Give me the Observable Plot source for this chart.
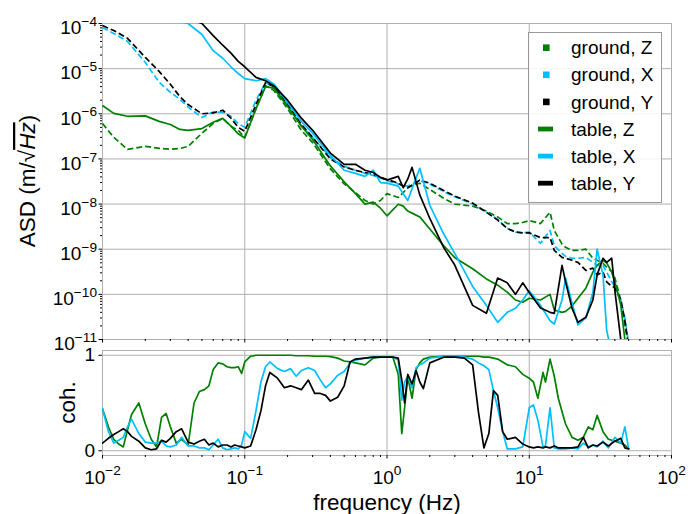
<!DOCTYPE html>
<html>
<head>
<meta charset="utf-8">
<script src="https://cdn.jsdelivr.net/npm/d3@7"></script>
<script src="https://cdn.jsdelivr.net/npm/@observablehq/plot@0.6"></script>
<style>
  body { margin: 0; background: #fff; }
  #chart { position: relative; width: 699px; height: 514px; overflow: hidden; background: #fff; }
  #chart svg { position: absolute; left: 0; overflow: visible; }
</style>
</head>
<body>
<div id="chart"></div>
<script>
// ---------- DATA ----------
const freq = [0.01,0.012,0.015,0.02,0.025,0.03,0.035,0.04,0.05,0.06,
  0.07,0.08,0.09,0.1,0.12,0.14,0.16,0.2,0.25,0.3,
  0.4,0.5,0.6,0.7,0.8,0.9,1,1.2,1.3,1.4,
  1.5,1.7,2,2.5,3,4,5,6,7,8,
  9,10,12,14,15,17,18,20,22,25,
  28,30,33,35,38,40,44,47,50];

const groundZ = [6.1e-7,3.0e-7,1.63e-7,1.9e-7,1.72e-7,1.63e-7,1.7e-7,1.9e-7,3.7e-7,6.1e-7,
  7.9e-7,5.3e-7,4.3e-7,3.0e-7,1.3e-6,4.2e-6,3.3e-6,1.3e-6,4.3e-7,2.3e-7,
  6.0e-8,2.8e-8,1.8e-8,1.2e-8,1.0e-8,1.2e-8,1.7e-8,1.4e-8,1.8e-8,2.3e-8,
  2.6e-8,2.9e-8,2.1e-8,1.35e-8,1.0e-8,9e-9,7.0e-9,5.2e-9,3.7e-9,3.7e-9,
  3.9e-9,4.3e-9,3.7e-9,6.6e-9,2.6e-9,1.3e-9,1.1e-9,9.4e-10,9.4e-10,1.0e-9,
  6.3e-10,5.7e-10,4.9e-10,4.0e-10,3.2e-10,2.3e-10,7.5e-11,2.1e-11,7e-12];

const groundX = [8.2e-5,6.0e-5,4.0e-5,1.37e-5,5e-6,3.0e-6,2.1e-6,1.4e-6,8.3e-7,1.1e-6,
  1.07e-6,8.8e-7,6.1e-7,5.0e-7,2.0e-6,4.9e-6,4.0e-6,1.6e-6,5.5e-7,3.0e-7,
  1.08e-7,6.9e-8,5.6e-8,4.8e-8,4.3e-8,3.8e-8,3.3e-8,2.8e-8,2.6e-8,2.5e-8,
  2.8e-8,3.3e-8,2.8e-8,1.9e-8,1.45e-8,1.0e-8,6.6e-9,4.6e-9,2.9e-9,2.4e-9,
  2.3e-9,2.4e-9,1.35e-9,2.6e-9,1.2e-9,8e-10,7e-10,6.3e-10,6.3e-10,6.6e-10,
  5.1e-10,4.4e-10,4.4e-10,3.1e-10,1.9e-10,1.5e-10,7.5e-11,3e-11,8e-12];

const groundY = [9e-5,7e-5,4.7e-5,1.77e-5,8.7e-6,4.5e-6,2.4e-6,1.6e-6,1.0e-6,1.05e-6,
  1.2e-6,8e-7,5e-7,4.1e-7,1.6e-6,4.9e-6,4.0e-6,1.6e-6,5.8e-7,3.0e-7,
  1.0e-7,6.6e-8,5.6e-8,5.0e-8,4.6e-8,3.9e-8,3.5e-8,2.9e-8,2.5e-8,2.3e-8,
  2.6e-8,3.4e-8,2.9e-8,2.0e-8,1.5e-8,1.05e-8,6.6e-9,4.4e-9,2.9e-9,2.4e-9,
  2.3e-9,2.3e-9,1.8e-9,1.8e-9,9.4e-10,6.6e-10,6.3e-10,5.7e-10,5.1e-10,3.4e-10,
  3.8e-10,2.7e-10,3.1e-10,1.9e-10,1.5e-10,1.4e-10,7.5e-11,2.7e-11,7e-12];

const tableZ = [1.53e-6,1.02e-6,8.8e-7,9e-7,6.8e-7,5.8e-7,4.5e-7,4.3e-7,4.7e-7,6.5e-7,
  7.9e-7,5.3e-7,3.6e-7,2.9e-7,1.3e-6,4.0e-6,3.7e-6,1.46e-6,5.3e-7,2.7e-7,
  7e-8,3.1e-8,1.7e-8,1.0e-8,1.1e-8,8.1e-9,5.5e-9,9.9e-9,9e-9,7e-9,
  6.3e-9,5.2e-9,2.8e-9,1.2e-9,6.5e-10,3.7e-10,2.2e-10,1.6e-10,1.12e-10,7.5e-11,
  6.7e-11,8.2e-11,7.5e-11,1.0e-10,4.5e-11,4.0e-11,4.2e-11,5.5e-11,8.2e-11,1.37e-10,
  3.1e-10,4.4e-10,5.7e-10,5.0e-10,3.1e-10,1.9e-10,5.8e-11,1.0e-11,5e-12];

const tableX = [4e-4,3.5e-4,3e-4,2.5e-4,2e-4,1.6e-4,1.1e-4,1.0e-4,5.7e-5,2.5e-5,
  1.7e-5,1.1e-5,7.8e-6,6.0e-6,5.4e-6,6.0e-6,4.6e-6,1.8e-6,6.8e-7,3.7e-7,
  1.2e-7,5.6e-8,4.8e-8,4.1e-8,5.6e-8,3.0e-8,2.9e-8,2.5e-8,1.7e-8,1.2e-8,
  2.2e-8,6.2e-8,9.4e-9,2.2e-9,8e-10,1.5e-10,5.7e-11,2.4e-11,4.0e-11,4.9e-11,
  7.5e-11,1.2e-10,5.7e-11,2.6e-11,2.2e-11,7.5e-11,2.3e-10,6.4e-11,2.1e-11,3.0e-11,
  1.1e-10,1.0e-9,2.7e-10,1.6e-11,5e-12,5e-12,5e-12,5e-12,5e-12];

const tableY = [6e-4,5e-4,4e-4,3e-4,2.5e-4,2e-4,1.6e-4,1.3e-4,1.0e-4,5.4e-5,
  3.3e-5,2.2e-5,1.45e-5,1.1e-5,6.4e-6,5.4e-6,4.2e-6,2.0e-6,8e-7,4.3e-7,
  1.35e-7,7.6e-8,7.6e-8,5.6e-8,5.0e-8,3.9e-8,3.4e-8,4.1e-8,2.3e-8,3.6e-8,
  6.5e-8,1.6e-8,4.8e-9,1.1e-9,4.4e-10,5.7e-11,3.8e-11,2.3e-10,1.8e-10,1.0e-10,
  1.8e-10,1.1e-10,5e-11,4e-11,3.8e-11,4.4e-10,1.9e-10,4.9e-11,2.4e-11,3.1e-11,
  7.5e-11,2.7e-10,6.3e-10,5.1e-10,6.3e-10,1.2e-10,1e-11,5e-12,5e-12];

const cohFreq = [0.01,0.011,0.012,0.013,0.014,0.015,0.016,0.018,0.02,0.022,
  0.024,0.026,0.028,0.03,0.033,0.036,0.04,0.044,0.048,0.052,
  0.056,0.06,0.065,0.07,0.075,0.08,0.085,0.09,0.095,0.1,
  0.11,0.12,0.13,0.14,0.15,0.17,0.19,0.21,0.23,0.25,
  0.28,0.31,0.34,0.37,0.4,0.45,0.5,0.55,0.6,0.7,
  0.8,0.9,1,1.1,1.2,1.27,1.33,1.4,1.5,1.6,
  1.7,1.8,2,2.5,3,3.5,4,4.4,4.8,5.2,
  5.6,6,6.5,7,8,9,10,10.7,11.5,12.5,
  13,14,15,16,18,20,22,24,26,28,
  30,33,36,40,44,47,50];

const cohZ = [0.44,0.25,0.12,0.07,0.04,0.22,0.38,0.5,0.28,0.12,
  0.04,0.35,0.39,0.25,0.08,0.12,0.06,0.5,0.62,0.64,
  0.68,0.85,0.92,0.91,0.88,0.87,0.87,0.88,0.81,0.93,
  0.99,1.0,1.0,1.0,1.0,1.0,1.0,1.0,0.995,0.995,
  0.995,0.99,0.99,0.99,0.985,0.97,0.94,0.93,0.92,0.9,
  0.97,0.98,0.98,0.98,0.8,0.18,0.45,0.77,0.55,0.85,
  0.92,0.96,0.98,0.99,0.99,0.99,0.99,0.99,0.98,0.98,
  0.97,0.96,0.93,0.9,0.88,0.8,0.76,0.72,0.55,0.82,
  0.72,0.96,0.78,0.55,0.28,0.14,0.11,0.14,0.25,0.22,
  0.37,0.2,0.12,0.1,0.08,0.06,0.02];

const cohX = [0.44,0.2,0.08,0.11,0.14,0.25,0.33,0.18,0.09,0.08,
  0.08,0.1,0.05,0.04,0.06,0.14,0.05,0.05,0.03,0.03,
  0.01,0.06,0.12,0.03,0.01,0.02,0.03,0.02,0.06,0.2,
  0.13,0.42,0.72,0.88,0.93,0.86,0.83,0.86,0.78,0.84,
  0.87,0.84,0.74,0.66,0.7,0.79,0.83,0.92,0.95,0.97,
  0.98,0.98,0.98,0.98,0.95,0.53,0.72,0.78,0.66,0.87,
  0.9,0.92,0.97,0.99,0.99,0.98,0.96,0.92,0.89,0.85,
  0.63,0.45,0.2,0.02,0.02,0.04,0.45,0.48,0.32,0.04,
  0.05,0.45,0.03,0.02,0.02,0.03,0.02,0.08,0.04,0.06,
  0.04,0.1,0.03,0.14,0.08,0.25,0.02];

const cohY = [0.08,0.13,0.17,0.2,0.23,0.2,0.15,0.1,0.03,0.01,
  0.02,0.11,0.09,0.13,0.2,0.23,0.09,0.07,0.1,0.12,
  0.06,0.08,0.04,0.06,0.06,0.04,0.06,0.05,0.04,0.03,
  0.05,0.22,0.42,0.68,0.82,0.76,0.66,0.68,0.66,0.64,
  0.74,0.6,0.6,0.58,0.52,0.56,0.68,0.93,0.96,0.97,
  0.98,0.98,0.98,0.98,0.97,0.74,0.5,0.8,0.7,0.84,
  0.72,0.65,0.92,0.98,0.98,0.97,0.9,0.4,0.03,0.18,
  0.63,0.58,0.2,0.12,0.14,0.07,0.04,0.03,0.04,0.03,
  0.04,0.03,0.05,0.03,0.03,0.03,0.04,0.14,0.03,0.06,
  0.05,0.09,0.05,0.1,0.13,0.03,0.02];

const seriesNames = ["ground, Z","ground, X","ground, Y","table, Z","table, X","table, Y"];
const seriesColors = ["green","deepskyblue","black","green","deepskyblue","black"];
const seriesDashed = [true,true,true,false,false,false];
const seriesValues = [groundZ, groundX, groundY, tableZ, tableX, tableY];
const cohNames = ["Z","X","Y"];
const cohColors = ["green","deepskyblue","black"];
const cohValues = [cohZ, cohX, cohY];

const xTicks = [0.01, 0.1, 1, 10, 100];
const xTickLabels = ["10^-2","10^-1","10^0","10^1","10^2"];
const yTicks = [1e-11,1e-10,1e-9,1e-8,1e-7,1e-6,1e-5,1e-4];
const yTickLabels = ["10^-11","10^-10","10^-9","10^-8","10^-7","10^-6","10^-5","10^-4"];
const cohTicks = [0, 1];
const cohTickLabels = ["0", "1"];

// minor log tick positions
const minorOf = (lo, hi) => { const out = []; for (let k = lo; k < hi; k++) for (let m = 2; m <= 9; m++) out.push(m * Math.pow(10, k)); return out; };
const xMinor = minorOf(-2, 2);
const yMinor = minorOf(-11, -4);

// ---------- STYLE ----------
const FONT = '"Liberation Sans", Arial, Helvetica, sans-serif';
const GRID = "#b0b0b0";
const W = 699;
const TICK_FS = "19px";
const LABEL_FS = 22.5;
const rows = (fs, vs) => fs.map((f, i) => ({f, v: vs[i]}));

// ---------- TOP PANEL ----------
const asdLines = seriesValues.map((vals, i) => Plot.line(rows(freq, vals), {
  x: "f", y: "v", stroke: seriesColors[i], strokeWidth: 1.7,
  strokeDasharray: seriesDashed[i] ? "6,3" : null,
  strokeLinecap: "butt", strokeLinejoin: "round", clip: true
}));

const topPlot = Plot.plot({
  width: W, height: 345,
  marginLeft: 102, marginRight: 28, marginTop: 23, marginBottom: 6,
  style: {fontFamily: FONT, fontSize: TICK_FS, color: "black", background: "transparent", overflow: "visible"},
  x: {type: "log", domain: [0.01, 100]},
  y: {type: "log", domain: [1e-11, 1e-4]},
  marks: [
    Plot.gridX(xTicks, {stroke: GRID, strokeOpacity: 1, strokeWidth: 1}),
    Plot.gridY(yTicks, {stroke: GRID, strokeOpacity: 1, strokeWidth: 1}),
    Plot.frame({stroke: GRID, strokeWidth: 1}),
    ...asdLines,
    Plot.axisY(yTicks, {tickSize: 3.5, tickPadding: 2, tickFormat: d => yTickLabels[yTicks.indexOf(d)], label: null, stroke: "black"}),
    Plot.axisY(yMinor, {tickSize: 2, tickFormat: () => "", label: null, stroke: "black"}),
    Plot.axisX(xTicks, {tickSize: 3.5, tickFormat: () => "", label: null, stroke: "black"}),
    Plot.axisX(xMinor, {tickSize: 2, tickFormat: () => "", label: null, stroke: "black"})
  ]
});
topPlot.style.top = "0px";

// ---------- BOTTOM PANEL ----------
const cohLines = cohValues.map((vals, i) => Plot.line(rows(cohFreq, vals), {
  x: "f", y: "v", stroke: cohColors[i], strokeWidth: 1.7, strokeLinejoin: "round", clip: true
}));

const bottomPlot = Plot.plot({
  width: W, height: 169,
  marginLeft: 102, marginRight: 28, marginTop: 5, marginBottom: 59,
  style: {fontFamily: FONT, fontSize: TICK_FS, color: "black", background: "transparent", overflow: "visible"},
  x: {type: "log", domain: [0.01, 100]},
  y: {domain: [-0.05, 1.05]},
  marks: [
    Plot.gridX(xTicks, {stroke: GRID, strokeOpacity: 1, strokeWidth: 1}),
    Plot.gridY(cohTicks, {stroke: GRID, strokeOpacity: 1, strokeWidth: 1}),
    Plot.frame({stroke: GRID, strokeWidth: 1}),
    ...cohLines,
    Plot.axisY(cohTicks, {tickSize: 3.5, tickPadding: 4, tickFormat: d => cohTickLabels[cohTicks.indexOf(d)], label: null, stroke: "black"}),
    Plot.axisX(xTicks, {tickSize: 3.5, tickPadding: 11, tickFormat: d => xTickLabels[xTicks.indexOf(d)], label: null, stroke: "black"}),
    Plot.axisX(xMinor, {tickSize: 2, tickFormat: () => "", label: null, stroke: "black"})
  ]
});
bottomPlot.style.top = "345px";

// ---------- superscript tick labels ----------
function superscripts(svg, firstDy) {
  d3.select(svg).selectAll("text").each(function() {
    const m = /^10\^(.+)$/.exec(this.textContent);
    if (!m) return;
    const sel = d3.select(this);
    sel.text(null);
    sel.append("tspan").attr("dy", firstDy).text("10");
    sel.append("tspan").attr("dy", "-0.6em").attr("font-size", "0.72em").text(m[1].replace("-", "\u2212"));
  });
}
superscripts(topPlot, "0.25em");
superscripts(bottomPlot, "0em");

// ---------- labels ----------
const ts = d3.select(topPlot);
const yl = ts.append("text")
  .attr("transform", "translate(35,181) rotate(-90)")
  .attr("text-anchor", "middle").attr("font-size", LABEL_FS).attr("fill", "black");
yl.append("tspan").text("ASD (m/\u221A");
yl.append("tspan").attr("font-style", "italic").style("text-decoration", "overline").text("Hz");
yl.append("tspan").text(")");

// legend
const lg = ts.append("g").attr("text-anchor", "start");
lg.append("rect").attr("x", 528.5).attr("y", 32.5).attr("width", 133).attr("height", 170)
  .attr("fill", "white").attr("fill-opacity", 0.85).attr("stroke", "#999").attr("stroke-width", 1);
seriesNames.forEach((name, i) => {
  const cy = 47.7 + i * 27.1;
  if (seriesDashed[i]) {
    lg.append("rect").attr("x", 543).attr("y", cy - 3.3).attr("width", 6.6).attr("height", 6.6).attr("fill", seriesColors[i]);
  } else {
    lg.append("rect").attr("x", 538).attr("y", cy - 2.4).attr("width", 15).attr("height", 4.8).attr("fill", seriesColors[i]);
  }
  lg.append("text").attr("x", 571).attr("y", cy).attr("dy", "0.35em").attr("text-anchor", "start")
    .attr("font-size", 19).attr("fill", "black").text(name);
});

const bs = d3.select(bottomPlot);
bs.append("text").attr("transform", "translate(75,57.5) rotate(-90)")
  .attr("text-anchor", "middle").attr("font-size", LABEL_FS).attr("fill", "black").text("coh.");
bs.append("text").attr("x", 387).attr("y", 165)
  .attr("text-anchor", "middle").attr("font-size", LABEL_FS).attr("fill", "black").text("frequency (Hz)");

const chart = document.getElementById("chart");
chart.appendChild(bottomPlot);
chart.appendChild(topPlot);
</script>
</body>
</html>
